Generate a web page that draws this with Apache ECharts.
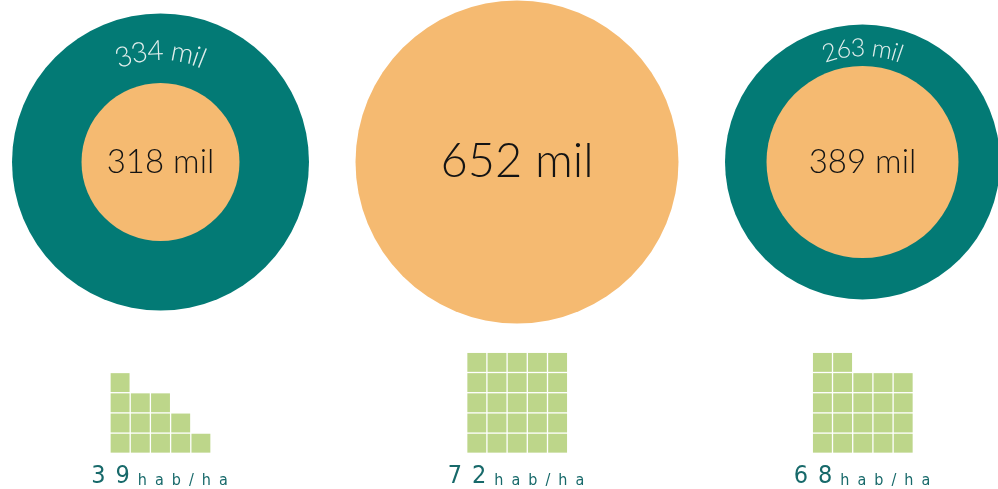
<!DOCTYPE html>
<html><head><meta charset="utf-8">
<script src="https://cdn.jsdelivr.net/npm/echarts@6/dist/echarts.min.js"></script>
<style>html,body{margin:0;padding:0;background:#fff}#c{width:998px;height:489px}</style>
</head><body><div id="c"></div>
<script>
// ---- data ----
const outerValues = [334, null, 263];          // mil (anillo exterior)
const innerValues = [318, 652, 389];           // mil (círculo interior)
const valueUnit = 'mil';
const densityValues = [39, 72, 68];            // hab/ha
const densityUnit = 'hab/ha';
const waffleColumns = [[4,3,3,2,1],[5,5,5,5,5],[5,5,4,4,4]]; // altura de cada columna
const waffleAxis = ['0','1','2','3','4'];

// ---- layout / style ----
const centers = [[160.5,162],[517,162],[862.5,162]];
const outerR = [148.5, 0, 137.5];
const innerR = [79, 161.5, 96];
const innerFont = [33, 47, 33];
const ringFont = [28, 0, 25];
const ringTextR = [111, 0, 114];
const waffleLeft = [110, 466.7, 812.3];
const waffleTop = 352.3, cellPitch = 20.2;
const labelX = [161.5, 518, 864];
const TEAL = '#037a75', ORANGE = '#f5ba71', GREEN = '#bdd68a', LABEL = '#17696a';
const FONT = 'Lato, "Open Sans", sans-serif';
const CFONT = '"DejaVu Sans Condensed", "Liberation Sans Narrow", sans-serif';

const chart = echarts.init(document.getElementById('c'));
const series = [], grids = [], xAxes = [], yAxes = [], graphics = [];

const mctx = document.createElement('canvas').getContext('2d');

for (let i = 0; i < 3; i++) {
  if (outerValues[i] != null) {
    series.push({
      type: 'pie', silent: true, animation: false, center: centers[i],
      radius: [0, outerR[i]], label: {show: false}, labelLine: {show: false},
      emphasis: {disabled: true},
      data: [{value: outerValues[i], itemStyle: {color: TEAL}}]
    });
    // curved label along the ring
    const txt = outerValues[i] + ' ' + valueUnit;
    const font = '300 ' + ringFont[i] + 'px ' + FONT;
    mctx.font = font;
    const W = mctx.measureText(txt).width;
    let s = 0;
    const r = ringTextR[i];
    for (const ch of txt) {
      const w = mctx.measureText(ch).width;
      const th = (s + w / 2 - W / 2) / r;
      graphics.push({
        type: 'text', silent: true, z: 100, zlevel: 1,
        x: centers[i][0] + r * Math.sin(th), y: centers[i][1] - r * Math.cos(th),
        rotation: -th,
        style: {text: ch, fontSize: ringFont[i], fontFamily: FONT, fontWeight: 300,
                fill: '#e3efed', align: 'center', verticalAlign: 'middle'}
      });
      s += w;
    }
  }
  series.push({
    type: 'pie', silent: true, animation: false, center: centers[i],
    radius: [0, innerR[i]], labelLine: {show: false}, emphasis: {disabled: true},
    label: {show: true, position: 'center', formatter: '{c} ' + valueUnit,
            fontSize: innerFont[i], fontFamily: FONT, fontWeight: 300, color: '#141414'},
    data: [{value: innerValues[i], itemStyle: {color: ORANGE}}]
  });

  // waffle
  grids.push({left: waffleLeft[i], top: waffleTop, width: 5 * cellPitch, height: 5 * cellPitch});
  xAxes.push({type: 'category', gridIndex: i, data: waffleAxis, show: false});
  yAxes.push({type: 'category', gridIndex: i, data: waffleAxis, show: false});
  const cells = [];
  waffleColumns[i].forEach((h, c) => { for (let rr = 0; rr < h; rr++) cells.push([c, rr]); });
  series.push({
    type: 'custom', xAxisIndex: i, yAxisIndex: i, silent: true, animation: false,
    data: cells,
    renderItem: (params, api) => {
      const p = api.coord([api.value(0), api.value(1)]);
      const sz = api.size([1, 1]);
      const g = 1.3;
      return {type: 'rect', shape: {x: p[0] - sz[0] / 2 + g / 2, y: p[1] - sz[1] / 2 + g / 2,
              width: sz[0] - g, height: sz[1] - g}, style: {fill: GREEN}};
    }
  });

  // density label (letter-spaced via rich-text padding)
  const dChars = String(densityValues[i]).split('');
  const uChars = densityUnit.split('');
  const txt = dChars.map((c, k) => '{' + (k === dChars.length - 1 ? 'dl' : 'd') + '|' + c + '}').join('') +
              uChars.map(c => '{u|' + c + '}').join('');
  graphics.push({
    type: 'text', silent: true, z: 100, x: labelX[i], y: 489,
    style: {
      text: txt,
      align: 'center', verticalAlign: 'bottom',
      rich: {
        d: {fontSize: 25, fontFamily: CFONT, fill: LABEL, verticalAlign: 'bottom', padding: [0, 10, 0, 0]},
        dl: {fontSize: 25, fontFamily: CFONT, fill: LABEL, verticalAlign: 'bottom', padding: [0, 4, 0, 0]},
        u: {fontSize: 16, fontFamily: CFONT, fill: LABEL, verticalAlign: 'bottom', padding: [0, 4, 0, 4]}
      }
    }
  });
}

chart.setOption({
  animation: false,
  grid: grids, xAxis: xAxes, yAxis: yAxes,
  series: series,
  graphic: graphics
});
</script></body></html>
